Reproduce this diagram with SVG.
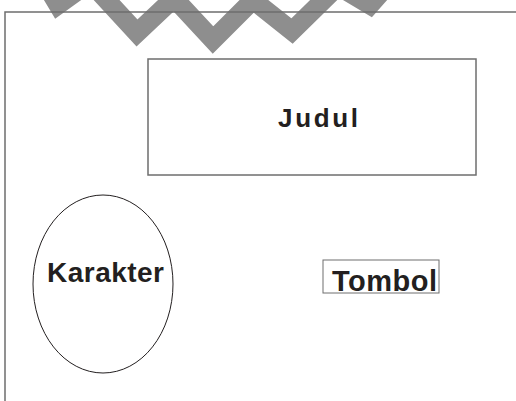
<svg xmlns="http://www.w3.org/2000/svg" width="516" height="401" viewBox="0 0 516 401">
<style>
.lbl{font-family:"Liberation Sans",Arial,sans-serif;font-weight:bold;fill:#231f20}
.frame{stroke:#6e6e6e;stroke-width:1.5;fill:none}
</style>
<rect width="516" height="401" fill="#fff"/>
<g id="watermark">
<polyline points="40,-25 58,5 90,-18 137,33 174,-2 213,40 253,0 292,31 338,-14 370,5 394,-22" fill="none" stroke="#8e8e8e" stroke-width="19" stroke-linejoin="miter"/>
</g>
<g id="frame">
<path class="frame" d="M5,401 V12 H516"/>
</g>
<g id="judul">
<rect x="148" y="59" width="328" height="116" fill="none" stroke="#6e6e6e" stroke-width="1.5"/>
<text class="lbl" x="278" y="127" font-size="26" textLength="80" lengthAdjust="spacing">Judul</text>
</g>
<g id="karakter">
<ellipse cx="103" cy="284" rx="70" ry="89" fill="none" stroke="#231f20" stroke-width="1"/>
<text class="lbl" x="47" y="282" font-size="28" textLength="117" lengthAdjust="spacing">Karakter</text>
</g>
<g id="tombol">
<rect x="323" y="260" width="116" height="33" fill="none" stroke="#6e6e6e" stroke-width="1"/>
<text class="lbl" x="332" y="291" font-size="29" textLength="105" lengthAdjust="spacing">Tombol</text>
</g>
<g id="connectors"/>
</svg>
